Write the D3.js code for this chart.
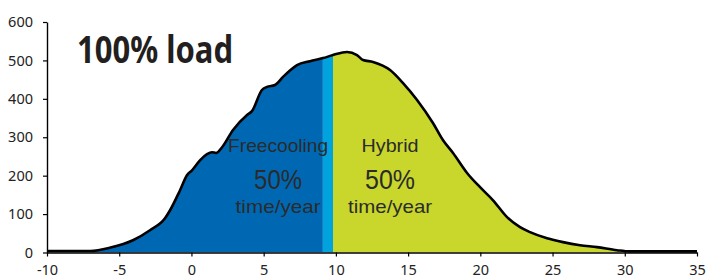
<!DOCTYPE html>
<html>
<head>
<meta charset="utf-8">
<script src="https://cdn.jsdelivr.net/npm/d3@7"></script>
<style>
  html, body { margin: 0; padding: 0; background: #fff; }
  svg { display: block; }
  text { font-family: "Noto Sans", "Open Sans", sans-serif; }
</style>
</head>
<body>
<svg id="chart" width="706" height="279"></svg>
<script>
// ---- data ----
const temperature = [-10, -7, -5.6, -4.05, -2.87, -1.83, -1.48, -0.79, -0.31, 0.04, 0.59, 1.08, 1.42, 1.7, 2.12, 2.88, 3.85, 4.19, 4.88, 5.23, 5.78, 6.34, 6.82, 7.31, 8.21, 9.11, 9.8, 10.77, 11.46, 11.88, 12.57, 13.75, 14.65, 15.62, 16.72, 17.42, 18.11, 19.08, 19.98, 20.88, 21.85, 22.75, 23.44, 24.62, 25.72, 26.9, 28.08, 29.46, 30.36, 35];
const hours = [4, 4, 13, 32, 58, 89, 110, 162, 201, 214, 240, 256, 261, 259, 274, 319, 358, 368, 423, 431, 436, 457, 474, 488, 498, 506, 514, 522, 514, 501, 496, 475, 441, 397, 337, 292, 259, 207, 170, 136, 92, 66, 53, 37, 27, 19, 14, 6, 3, 3];
const xTicks = [-10, -5, 0, 5, 10, 15, 20, 25, 30, 35];
const yTicks = [0, 100, 200, 300, 400, 500, 600];
const regionNames = ["Freecooling", "transition", "Hybrid"];
const regionStarts = [-10, 9.1, 9.8];
const regionEnds = [9.1, 9.8, 35];
const regionColors = ["#0068b3", "#00a3de", "#c9d62b"];
const labelLines = [["Freecooling", "50%", "time/year"], ["Hybrid", "50%", "time/year"]];
const labelCenters = [6.0, 13.75];
const title = "100% load";

// ---- scales ----
const svg = d3.select("#chart");
const x = d3.scaleLinear().domain([-10, 35]).range([47, 697]);
const y = d3.scaleLinear().domain([0, 600]).range([252.5, 22]);

const pts = temperature.map((t, i) => [t, hours[i]]);
const area = d3.area().x(d => x(d[0])).y0(y(0)).y1(d => y(d[1])).curve(d3.curveMonotoneX);
const line = d3.line().x(d => x(d[0])).y(d => y(d[1])).curve(d3.curveMonotoneX);

const defs = svg.append("defs");
regionNames.forEach((n, i) => {
  defs.append("clipPath").attr("id", "clip" + i)
    .append("rect")
    .attr("x", x(regionStarts[i])).attr("y", 0)
    .attr("width", x(regionEnds[i]) - x(regionStarts[i]))
    .attr("height", y(0));
});
regionNames.forEach((n, i) => {
  svg.append("path").datum(pts)
    .attr("d", area)
    .attr("fill", regionColors[i])
    .attr("clip-path", `url(#clip${i})`);
});

// ---- region labels ----
const lineSpecs = [
  { dy: 152, size: 18.5, widths: [100, 57] },
  { dy: 189, size: 27, widths: [48, 50] },
  { dy: 212.5, size: 19, widths: [85, 84] }
];
labelLines.forEach((lines, r) => {
  lines.forEach((txt, k) => {
    svg.append("text")
      .attr("x", x(labelCenters[r]))
      .attr("y", lineSpecs[k].dy)
      .attr("text-anchor", "middle")
      .attr("font-size", lineSpecs[k].size)
      .attr("fill", "#2b2b2b")
      .attr("textLength", lineSpecs[k].widths[r])
      .attr("lengthAdjust", "spacingAndGlyphs")
      .style("font-family", "'Liberation Sans', Arial, sans-serif")
      .text(txt);
  });
});

// ---- curve outline ----
svg.append("path").datum(pts)
  .attr("d", line)
  .attr("fill", "none")
  .attr("stroke", "#000")
  .attr("stroke-width", 2.6)
  .attr("stroke-linejoin", "round");

// ---- axes ----
const xAxis = d3.axisBottom(x).tickValues(xTicks).tickSize(4).tickPadding(8).tickSizeOuter(0)
  .tickFormat(d => String(d));
const yAxis = d3.axisLeft(y).tickValues(yTicks).tickSize(4).tickPadding(10).tickSizeOuter(0)
  .tickFormat(d => String(d));

const gx = svg.append("g").attr("transform", `translate(0,${y(0)})`).call(xAxis);
const gy = svg.append("g").attr("transform", `translate(${x(-10)},0)`).call(yAxis);
[gx, gy].forEach(g => {
  g.select(".domain").attr("stroke", "#000").attr("stroke-width", 1.4);
  g.selectAll(".tick line").attr("stroke", "#000").attr("stroke-width", 1.2);
  g.selectAll(".tick text").attr("fill", "#222").attr("font-size", 14.5)
    .style("font-family", "'Noto Sans', 'Open Sans', sans-serif");
});

// ---- title ----
svg.append("text")
  .attr("x", 77).attr("y", 63)
  .attr("font-size", 37)
  .attr("font-weight", "bold")
  .attr("fill", "#231f20")
  .attr("textLength", 156)
  .attr("lengthAdjust", "spacingAndGlyphs")
  .text(title);
</script>
</body>
</html>
